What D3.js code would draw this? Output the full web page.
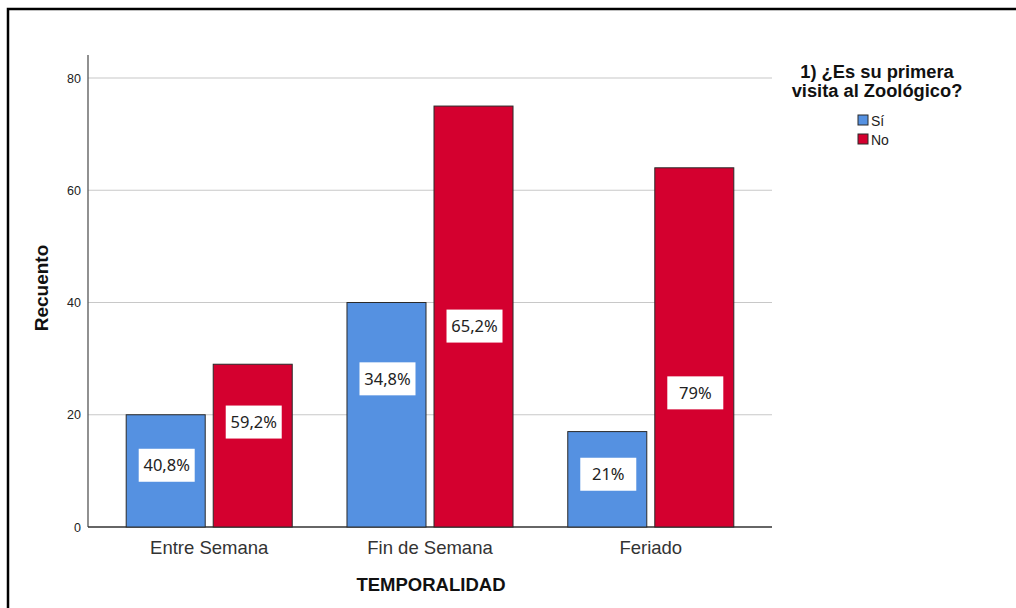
<!DOCTYPE html>
<html>
<head>
<meta charset="utf-8">
<script src="https://cdn.jsdelivr.net/npm/d3@7/dist/d3.min.js"></script>
<style>
  body { margin: 0; background: #fff; }
  svg { display: block; }
</style>
</head>
<body>
<div id="chart"></div>
<script>

const categories = ['Entre Semana', 'Fin de Semana', 'Feriado'];
const seriesNames = ['Sí', 'No'];
const valuesSi = [20, 40, 17];
const valuesNo = [29, 75, 64];
const pctSi = ['40,8%', '34,8%', '21%'];
const pctNo = ['59,2%', '65,2%', '79%'];
// where SPSS put each percentage label, in count units
const labelAtSi = [11, 26.4, 9.4];
const labelAtNo = [18.7, 35.8, 23.9];
const yTicks = [0, 20, 40, 60, 80];
const colors = ['#5591e1', '#d4002f'];

function createChart(containerId) {

    try {

        let svg = d3.select(containerId)
            .append('svg')
            .attr('width', 1016)
            .attr('height', 608);

        // frame (only top and left edges are visible)
        svg.append('path')
            .attr('d', 'M8,1016 L8,9 L1016,9')
            .attr('fill', 'none')
            .attr('stroke', '#000')
            .attr('stroke-width', 2.5);

        let left = 88, right = 772, top = 55, bottom = 527;
        let font = 'Arial, "Liberation Sans", sans-serif';

        let y = d3.scaleLinear().domain([0, 80]).range([bottom, 78]);

        let x0 = d3.scaleBand().domain(categories)
            .range([left, right]).paddingInner(0.248).paddingOuter(0.173);
        let x1 = d3.scaleBand().domain(seriesNames)
            .range([0, x0.bandwidth()]).paddingInner(0.092);

        // gridlines
        svg.append('g').selectAll('line')
            .data(yTicks.filter(d => d > 0)).enter()
            .append('line')
            .attr('x1', left).attr('x2', right)
            .attr('y1', d => y(d)).attr('y2', d => y(d))
            .attr('stroke', '#c8c8c8').attr('stroke-width', 1.2);

        // y axis
        let yAxis = svg.append('g')
            .attr('transform', 'translate(' + left + ',0)')
            .call(d3.axisLeft(y).tickValues(yTicks).tickSize(0).tickPadding(7));
        yAxis.select('.domain').remove();
        yAxis.selectAll('text')
            .attr('font-family', font)
            .attr('font-size', 12.5).attr('fill', '#222');

        svg.append('line')
            .attr('x1', left).attr('x2', left)
            .attr('y1', top).attr('y2', bottom)
            .attr('stroke', '#555').attr('stroke-width', 1.3);
        svg.append('line')
            .attr('x1', left).attr('x2', right)
            .attr('y1', bottom).attr('y2', bottom)
            .attr('stroke', '#333').attr('stroke-width', 1.3);

        let rows = categories.map((c, i) => ({
            cat: c,
            bars: [
                { s: 'Sí', v: valuesSi[i], p: pctSi[i], at: labelAtSi[i] },
                { s: 'No', v: valuesNo[i], p: pctNo[i], at: labelAtNo[i] }
            ]
        }));

        let groups = svg.append('g').selectAll('g')
            .data(rows).enter()
            .append('g')
            .attr('transform', d => 'translate(' + x0(d.cat) + ',0)');

        groups.selectAll('rect.bar')
            .data(d => d.bars).enter()
            .append('rect')
            .attr('class', 'bar')
            .attr('x', d => x1(d.s))
            .attr('y', d => y(d.v))
            .attr('width', x1.bandwidth())
            .attr('height', d => y(0) - y(d.v))
            .attr('fill', (d, i) => colors[i])
            .attr('stroke', '#2a2a2a').attr('stroke-width', 1);

        let labels = groups.selectAll('g.lbl')
            .data(d => d.bars).enter()
            .append('g')
            .attr('class', 'lbl')
            .attr('transform', d => 'translate(' + (x1(d.s) + x1.bandwidth() / 2 + 1) + ',' + y(d.at) + ')');

        labels.append('rect')
            .attr('x', -28).attr('y', -16.5)
            .attr('width', 56).attr('height', 33)
            .attr('fill', '#fff');

        labels.append('text')
            .attr('text-anchor', 'middle')
            .attr('dy', '0.36em')
            .attr('font-family', '"Noto Sans", "Open Sans", sans-serif')
            .attr('font-size', 16.5)
            .attr('fill', '#222')
            .text(d => d.p);

        // category labels
        svg.append('g').selectAll('text')
            .data(categories).enter()
            .append('text')
            .attr('x', d => x0(d) + x0.bandwidth() / 2)
            .attr('y', 554)
            .attr('text-anchor', 'middle')
            .attr('font-family', font)
            .attr('font-size', 18.5).attr('fill', '#333')
            .text(d => d);

        // axis titles
        svg.append('text')
            .attr('x', 431).attr('y', 591)
            .attr('text-anchor', 'middle')
            .attr('font-family', font)
            .attr('font-size', 18.5).attr('font-weight', 'bold').attr('fill', '#111')
            .text('TEMPORALIDAD');

        svg.append('text')
            .attr('transform', 'translate(48,288) rotate(-90)')
            .attr('text-anchor', 'middle')
            .attr('font-family', font)
            .attr('font-size', 19).attr('font-weight', 'bold').attr('fill', '#111')
            .text('Recuento');

        // legend
        let legend = svg.append('g');
        legend.append('text')
            .attr('x', 877).attr('y', 78)
            .attr('text-anchor', 'middle')
            .attr('font-family', font)
            .attr('font-size', 18.3).attr('font-weight', 'bold').attr('fill', '#111')
            .text('1) ¿Es su primera');
        legend.append('text')
            .attr('x', 877).attr('y', 97)
            .attr('text-anchor', 'middle')
            .attr('font-family', font)
            .attr('font-size', 18.3).attr('font-weight', 'bold').attr('fill', '#111')
            .text('visita al Zoológico?');

        let items = legend.selectAll('g.item')
            .data(seriesNames).enter()
            .append('g')
            .attr('class', 'item')
            .attr('transform', (d, i) => 'translate(858,' + (115 + i * 19) + ')');
        items.append('rect')
            .attr('width', 10).attr('height', 10)
            .attr('fill', (d, i) => colors[i])
            .attr('stroke', '#2a2a2a').attr('stroke-width', 1);
        items.append('text')
            .attr('x', 13).attr('y', 10.5)
            .attr('font-family', font)
            .attr('font-size', 14).attr('fill', '#222')
            .text(d => d);

        return svg;

    } catch (error) {

        console.log('Module: index.html -> Function: createChart. Error: ' + error);
        return null;
    }
}

createChart('#chart');
</script>
</body>
</html>
